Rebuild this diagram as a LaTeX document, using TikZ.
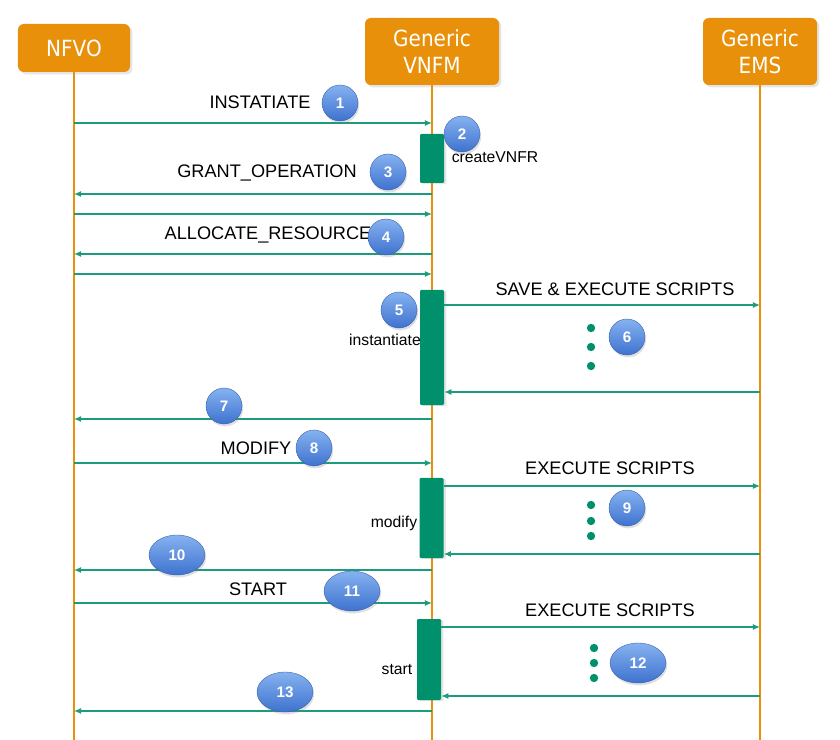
\documentclass[tikz,border=0pt]{standalone}
\usepackage{fontspec}
\setmainfont{Liberation Sans}
\newfontfamily\boxfont{DejaVu Sans Condensed}
\usetikzlibrary{arrows.meta,positioning,shadows,shapes.geometric}
\definecolor{orng}{HTML}{E8900A}
\definecolor{actgreen}{HTML}{00916C}
\definecolor{msggreen}{HTML}{1C9C7C}
\definecolor{bubtop}{HTML}{86B2F0}
\definecolor{bubbot}{HTML}{3E72CF}
\tikzset{
actor/.style={fill=orng, rounded corners=5pt, text=white, align=center, inner sep=0pt,
  font=\boxfont\fontsize{19}{23}\selectfont, drop shadow={opacity=0.2, shadow xshift=2pt, shadow yshift=-2pt}},
life/.style={orng, line width=1.3pt},
actbox/.style={fill=actgreen, rounded corners=1pt, minimum width=0.72cm, inner sep=0pt,
  drop shadow={opacity=0.2, shadow xshift=2pt, shadow yshift=-1pt}},
msgto/.style={msggreen, line width=1pt, -{Latex[length=6pt,width=5pt]}},
lbl/.style={font=\fontsize{15.5}{18}\selectfont},
smalllbl/.style={font=\fontsize{13.4}{16}\selectfont},
bubble/.style={circle, minimum size=1.08cm, inner sep=0pt, top color=bubtop, bottom color=bubbot,
  draw=bubbot!80!black, line width=0.3pt, text=white, font=\bfseries\fontsize{13}{15}\selectfont,
  drop shadow={opacity=0.25, shadow xshift=1pt, shadow yshift=-2pt}},
wbubble/.style={bubble, ellipse, minimum width=1.68cm, minimum height=1.2cm},
dot/.style={circle, fill=actgreen, minimum size=0.25cm, inner sep=0pt}
}
\begin{document}
\begin{tikzpicture}[x=0.03cm, y=-0.03cm]
\useasboundingbox[fill=white] (0,0) rectangle (840,740);
\node[actor, minimum width=3.36cm, minimum height=1.44cm] (nfvo) at (74,48) {NFVO};
\node[actor, minimum width=4.02cm, minimum height=2.01cm] (vnfm) at (432,51.5) {Generic\\VNFM};
\node[actor, minimum width=3.42cm, minimum height=2.01cm] (ems) at (760,51.5) {Generic\\EMS};
\coordinate (bottom) at (0,740);
\draw[life] (nfvo.south) -- (nfvo |- bottom);
\draw[life] (vnfm.south) -- (vnfm |- bottom);
\draw[life] (ems.south) -- (ems |- bottom);
\node[actbox, minimum height=1.47cm] (a1) at (432,158.5) {};
\node[actbox, minimum height=3.45cm] (a2) at (432,347.5) {};
\node[actbox, minimum height=2.4cm] (a3) at (431.5,518) {};
\node[actbox, minimum height=2.43cm] (a4) at (429,659.5) {};
\foreach \n/\y in {1/123,2/194,3/214,4/254,5/274,6/305,7/392,8/419,9/463,10/486,11/554,12/570,13/603,14/627,15/696,16/711}
  \coordinate (y\n) at (0,\y);
\draw[msgto] (nfvo |- y1) -- (vnfm |- y1);
\draw[msgto] (vnfm |- y2) -- (nfvo |- y2);
\draw[msgto] (nfvo |- y3) -- (vnfm |- y3);
\draw[msgto] (vnfm |- y4) -- (nfvo |- y4);
\draw[msgto] (nfvo |- y5) -- (vnfm |- y5);
\draw[msgto] (a2.east |- y6) -- (ems |- y6);
\draw[msgto] (ems |- y7) -- (a2.east |- y7);
\draw[msgto] (vnfm |- y8) -- (nfvo |- y8);
\draw[msgto] (nfvo |- y9) -- (vnfm |- y9);
\draw[msgto] (a3.east |- y10) -- (ems |- y10);
\draw[msgto] (ems |- y11) -- (a3.east |- y11);
\draw[msgto] (vnfm |- y12) -- (nfvo |- y12);
\draw[msgto] (nfvo |- y13) -- (vnfm |- y13);
\draw[msgto] (a4.east |- y14) -- (ems |- y14);
\draw[msgto] (ems |- y15) -- (a4.east |- y15);
\draw[msgto] (vnfm |- y16) -- (nfvo |- y16);
\node[lbl] (instantiate) at (260,102) {INSTATIATE};
\node[lbl] (grant) at (267,173) {GRANT\_OPERATION};
\node[lbl] (allocate) at (268,235) {ALLOCATE\_RESOURCE};
\node[lbl] (save) at (615,289) {SAVE \& EXECUTE SCRIPTS};
\node[lbl] (modify) at (256,448) {MODIFY};
\node[lbl] (exec1) at (610,468) {EXECUTE SCRIPTS};
\node[lbl] (start) at (258,589) {START};
\node[lbl] (exec2) at (610,610) {EXECUTE SCRIPTS};
\node[smalllbl] (createlbl) at (495,157) {createVNFR};
\node[smalllbl] (instlbl) at (385,340) {instantiate};
\node[smalllbl] (modlbl) at (394,523) {modify};
\node[smalllbl] (startlbl) at (397,669) {start};
\foreach \n/\y in {1/328,2/347,3/366} \node[dot] (d6\n) at (591,\y) {};
\foreach \n/\y in {1/505,2/521,3/536} \node[dot] (d9\n) at (591,\y) {};
\foreach \n/\y in {1/648,2/663,3/678} \node[dot] (d12\n) at (594,\y) {};
\node[bubble] (b1) at (340,103) {1};
\node[bubble] (b2) at (462,134) {2};
\node[bubble] (b3) at (388,172) {3};
\node[bubble] (b4) at (386,237) {4};
\node[bubble] (b5) at (399,310) {5};
\node[bubble] (b6) at (627,337) {6};
\node[bubble] (b7) at (224,406) {7};
\node[bubble] (b8) at (314,448) {8};
\node[bubble] (b9) at (627,508) {9};
\node[wbubble] (b10) at (177,555) {10};
\node[wbubble] (b11) at (352,591) {11};
\node[wbubble] (b12) at (638,663) {12};
\node[wbubble] (b13) at (285,692) {13};
\end{tikzpicture}
\end{document}
